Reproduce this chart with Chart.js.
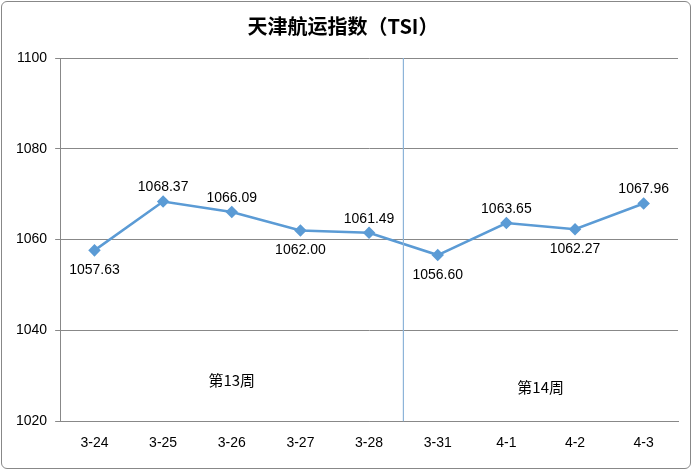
<!DOCTYPE html>
<html>
<head>
<meta charset="utf-8">
<script src="https://cdn.jsdelivr.net/npm/chart.js@4/dist/chart.umd.min.js"></script>
<style>
  body { margin: 0; background: #fff; }
  .box { position: absolute; left: 1px; top: 1px; width: 690px; height: 468px; border: 1px solid #888; border-radius: 6px; box-sizing: border-box; }
</style>
</head>
<body>
<div class="box"><canvas id="c" width="688" height="466"></canvas></div>
<script>
const dates = ['3-24', '3-25', '3-26', '3-27', '3-28', '3-31', '4-1', '4-2', '4-3']
const tsi = [1057.63, 1068.37, 1066.09, 1062.00, 1061.49, 1056.60, 1063.65, 1062.27, 1067.96]
const labelAbove = [false, true, true, false, true, false, true, false, true]
const weeks = [{ text: '第13周', at: 2, value: 1029 }, { text: '第14周', at: 6.5, value: 1027.5 }]

const labelPlugin = {
    id: 'labels',
    afterDatasetsDraw(chart) {
        const ctx = chart.ctx
        const x = chart.scales.x, y = chart.scales.y
        ctx.save()
        // week divider between 3-28 and 3-31
        const xs = (x.getPixelForValue(4) + x.getPixelForValue(5)) / 2
        ctx.strokeStyle = '#8db4d9'
        ctx.lineWidth = 1.2
        ctx.beginPath(); ctx.moveTo(xs, y.top); ctx.lineTo(xs, y.bottom); ctx.stroke()
        ctx.fillStyle = '#000'
        ctx.font = '14px "Liberation Sans", Arial, sans-serif'
        ctx.textAlign = 'center'
        ctx.textBaseline = 'middle'
        tsi.forEach((v, i) => {
            const px = x.getPixelForValue(i), py = y.getPixelForValue(v)
            ctx.fillText(v.toFixed(2), px, py + (labelAbove[i] ? -14 : 20))
        })
        ctx.font = '15px "Noto Sans CJK SC", sans-serif'
        weeks.forEach(w => ctx.fillText(w.text, x.getPixelForValue(w.at), y.getPixelForValue(w.value)))
        ctx.restore()
    }
}

new Chart(document.getElementById('c'), {
    type: 'line',
    data: {
        labels: dates,
        datasets: [{
            data: tsi,
            borderColor: '#5b9bd5',
            backgroundColor: '#5b9bd5',
            borderWidth: 2.5,
            pointStyle: 'rectRot',
            pointRadius: 4.5,
            tension: 0
        }]
    },
    options: {
        responsive: false,
        animation: false,
        layout: { padding: { left: 6, right: 12, top: 4, bottom: 10 } },
        plugins: {
            legend: { display: false },
            tooltip: { enabled: false },
            title: {
                display: true,
                text: '天津航运指数（TSI）',
                color: '#000',
                font: { family: '"Noto Sans CJK SC", sans-serif', size: 20, weight: 'bold' },
                padding: { top: 8, bottom: 20 }
            }
        },
        scales: {
            x: {
                offset: true,
                grid: { display: false },
                border: { color: '#888' },
                ticks: { color: '#000', font: { family: '"Liberation Sans", Arial', size: 14 }, padding: 6 }
            },
            y: {
                min: 1020, max: 1100,
                ticks: { stepSize: 20, color: '#000', font: { family: '"Liberation Sans", Arial', size: 14 }, padding: 8,
                    callback: v => String(v) },
                grid: { color: '#888', tickLength: 5 },
                border: { color: '#888' }
            }
        }
    },
    plugins: [labelPlugin]
})
</script>
</body>
</html>
